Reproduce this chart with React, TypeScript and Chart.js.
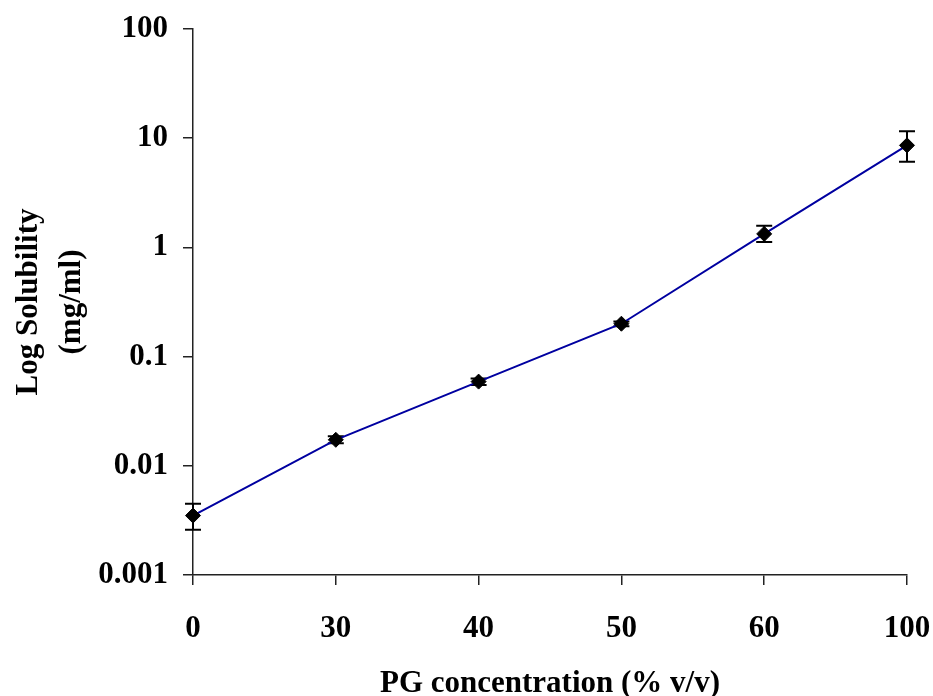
import React, { useEffect, useRef } from "react";
import { Chart, registerables } from "chart.js";

Chart.register(...registerables);

const categories = ["0", "30", "40", "50", "60", "100"];
const solubility = [0.0035, 0.0173, 0.059, 0.2, 1.33, 8.6];
const errorLow = [0.0026, 0.0161, 0.055, 0.19, 1.12, 6.1];
const errorHigh = [0.0045, 0.0186, 0.063, 0.21, 1.58, 11.6];
const yTickValues = [0.001, 0.01, 0.1, 1, 10, 100];
const yTickLabels = ["0.001", "0.01", "0.1", "1", "10", "100"];

const FONT = "'Liberation Serif', 'Times New Roman', serif";
const AXIS = "#222222";

const errorBarPlugin = {
  id: "errorBars",
  beforeDatasetsDraw(chart: any) {
    const { ctx } = chart;
    const xs = chart.scales.x;
    const ys = chart.scales.y;
    ctx.save();
    ctx.strokeStyle = "#000";
    ctx.lineWidth = 2;
    const cap = 8;
    for (let i = 0; i < categories.length; i++) {
      const x = xs.getPixelForValue(i);
      const yl = ys.getPixelForValue(errorLow[i]);
      const yh = ys.getPixelForValue(errorHigh[i]);
      ctx.beginPath();
      ctx.moveTo(x, yl);
      ctx.lineTo(x, yh);
      ctx.moveTo(x - cap, yl);
      ctx.lineTo(x + cap, yl);
      ctx.moveTo(x - cap, yh);
      ctx.lineTo(x + cap, yh);
      ctx.stroke();
    }
    ctx.restore();
  },
};

export default function App() {
  const ref = useRef<HTMLCanvasElement>(null);
  useEffect(() => {
    document.body.style.margin = "0";
    const chart = new Chart(ref.current!, {
      type: "line",
      data: {
        labels: categories,
        datasets: [
          {
            data: solubility,
            borderColor: "#0000A0",
            borderWidth: 2,
            pointStyle: "rectRot",
            pointRadius: 7.5,
            pointBackgroundColor: "#000",
            pointBorderColor: "#000",
            pointBorderWidth: 1,
            tension: 0,
          },
        ],
      },
      options: {
        responsive: false,
        animation: false,
        layout: { padding: { top: 29, right: 26, left: 0, bottom: 0 } },
        plugins: { legend: { display: false }, tooltip: { enabled: false } },
        scales: {
          x: {
            type: "category",
            offset: false,
            grid: {
              offset: false,
              drawOnChartArea: false,
              drawTicks: true,
              tickLength: 10,
              color: AXIS,
              lineWidth: 1.5,
            },
            border: { display: true, color: AXIS, width: 1.5 },
            ticks: {
              color: "#000",
              padding: 25,
              maxRotation: 0,
              font: { family: FONT, size: 31, weight: "bold" },
            },
            title: {
              display: true,
              text: "PG concentration (% v/v)",
              color: "#000",
              padding: { top: 0, bottom: 0 },
              font: { family: FONT, size: 31, weight: "bold", lineHeight: 0.8 },
            },
            afterFit(scale: any) {
              scale.height = 121;
              scale.paddingLeft = 0;
              scale.paddingRight = 0;
            },
          },
          y: {
            type: "logarithmic",
            min: 0.001,
            max: 100,
            grid: {
              drawOnChartArea: false,
              drawTicks: true,
              tickLength: 10,
              color: AXIS,
              lineWidth: 1.5,
            },
            border: { display: true, color: AXIS, width: 1.5 },
            afterBuildTicks(scale: any) {
              scale.ticks = yTickValues.map((v) => ({ value: v }));
            },
            ticks: {
              color: "#000",
              padding: 15,
              autoSkip: false,
              font: { family: FONT, size: 31, weight: "bold" },
              callback: (value: any) => {
                const idx = yTickValues.findIndex((v) => Math.abs(v - Number(value)) < v * 1e-6);
                return idx >= 0 ? yTickLabels[idx] : "";
              },
            },
            title: {
              display: true,
              text: ["Log Solubility", "(mg/ml)"],
              color: "#000",
              padding: { top: 7, bottom: 0 },
              font: { family: FONT, size: 31, weight: "bold", lineHeight: 1.4 },
            },
            afterFit(scale: any) {
              scale.width = 193;
              scale.paddingTop = 0;
              scale.paddingBottom = 0;
            },
          },
        },
      },
      plugins: [errorBarPlugin],
    });
    return () => chart.destroy();
  }, []);
  return (
    <div style={{ width: 933, height: 696, background: "#fff" }}>
      <canvas ref={ref} width={933} height={696} />
    </div>
  );
}
